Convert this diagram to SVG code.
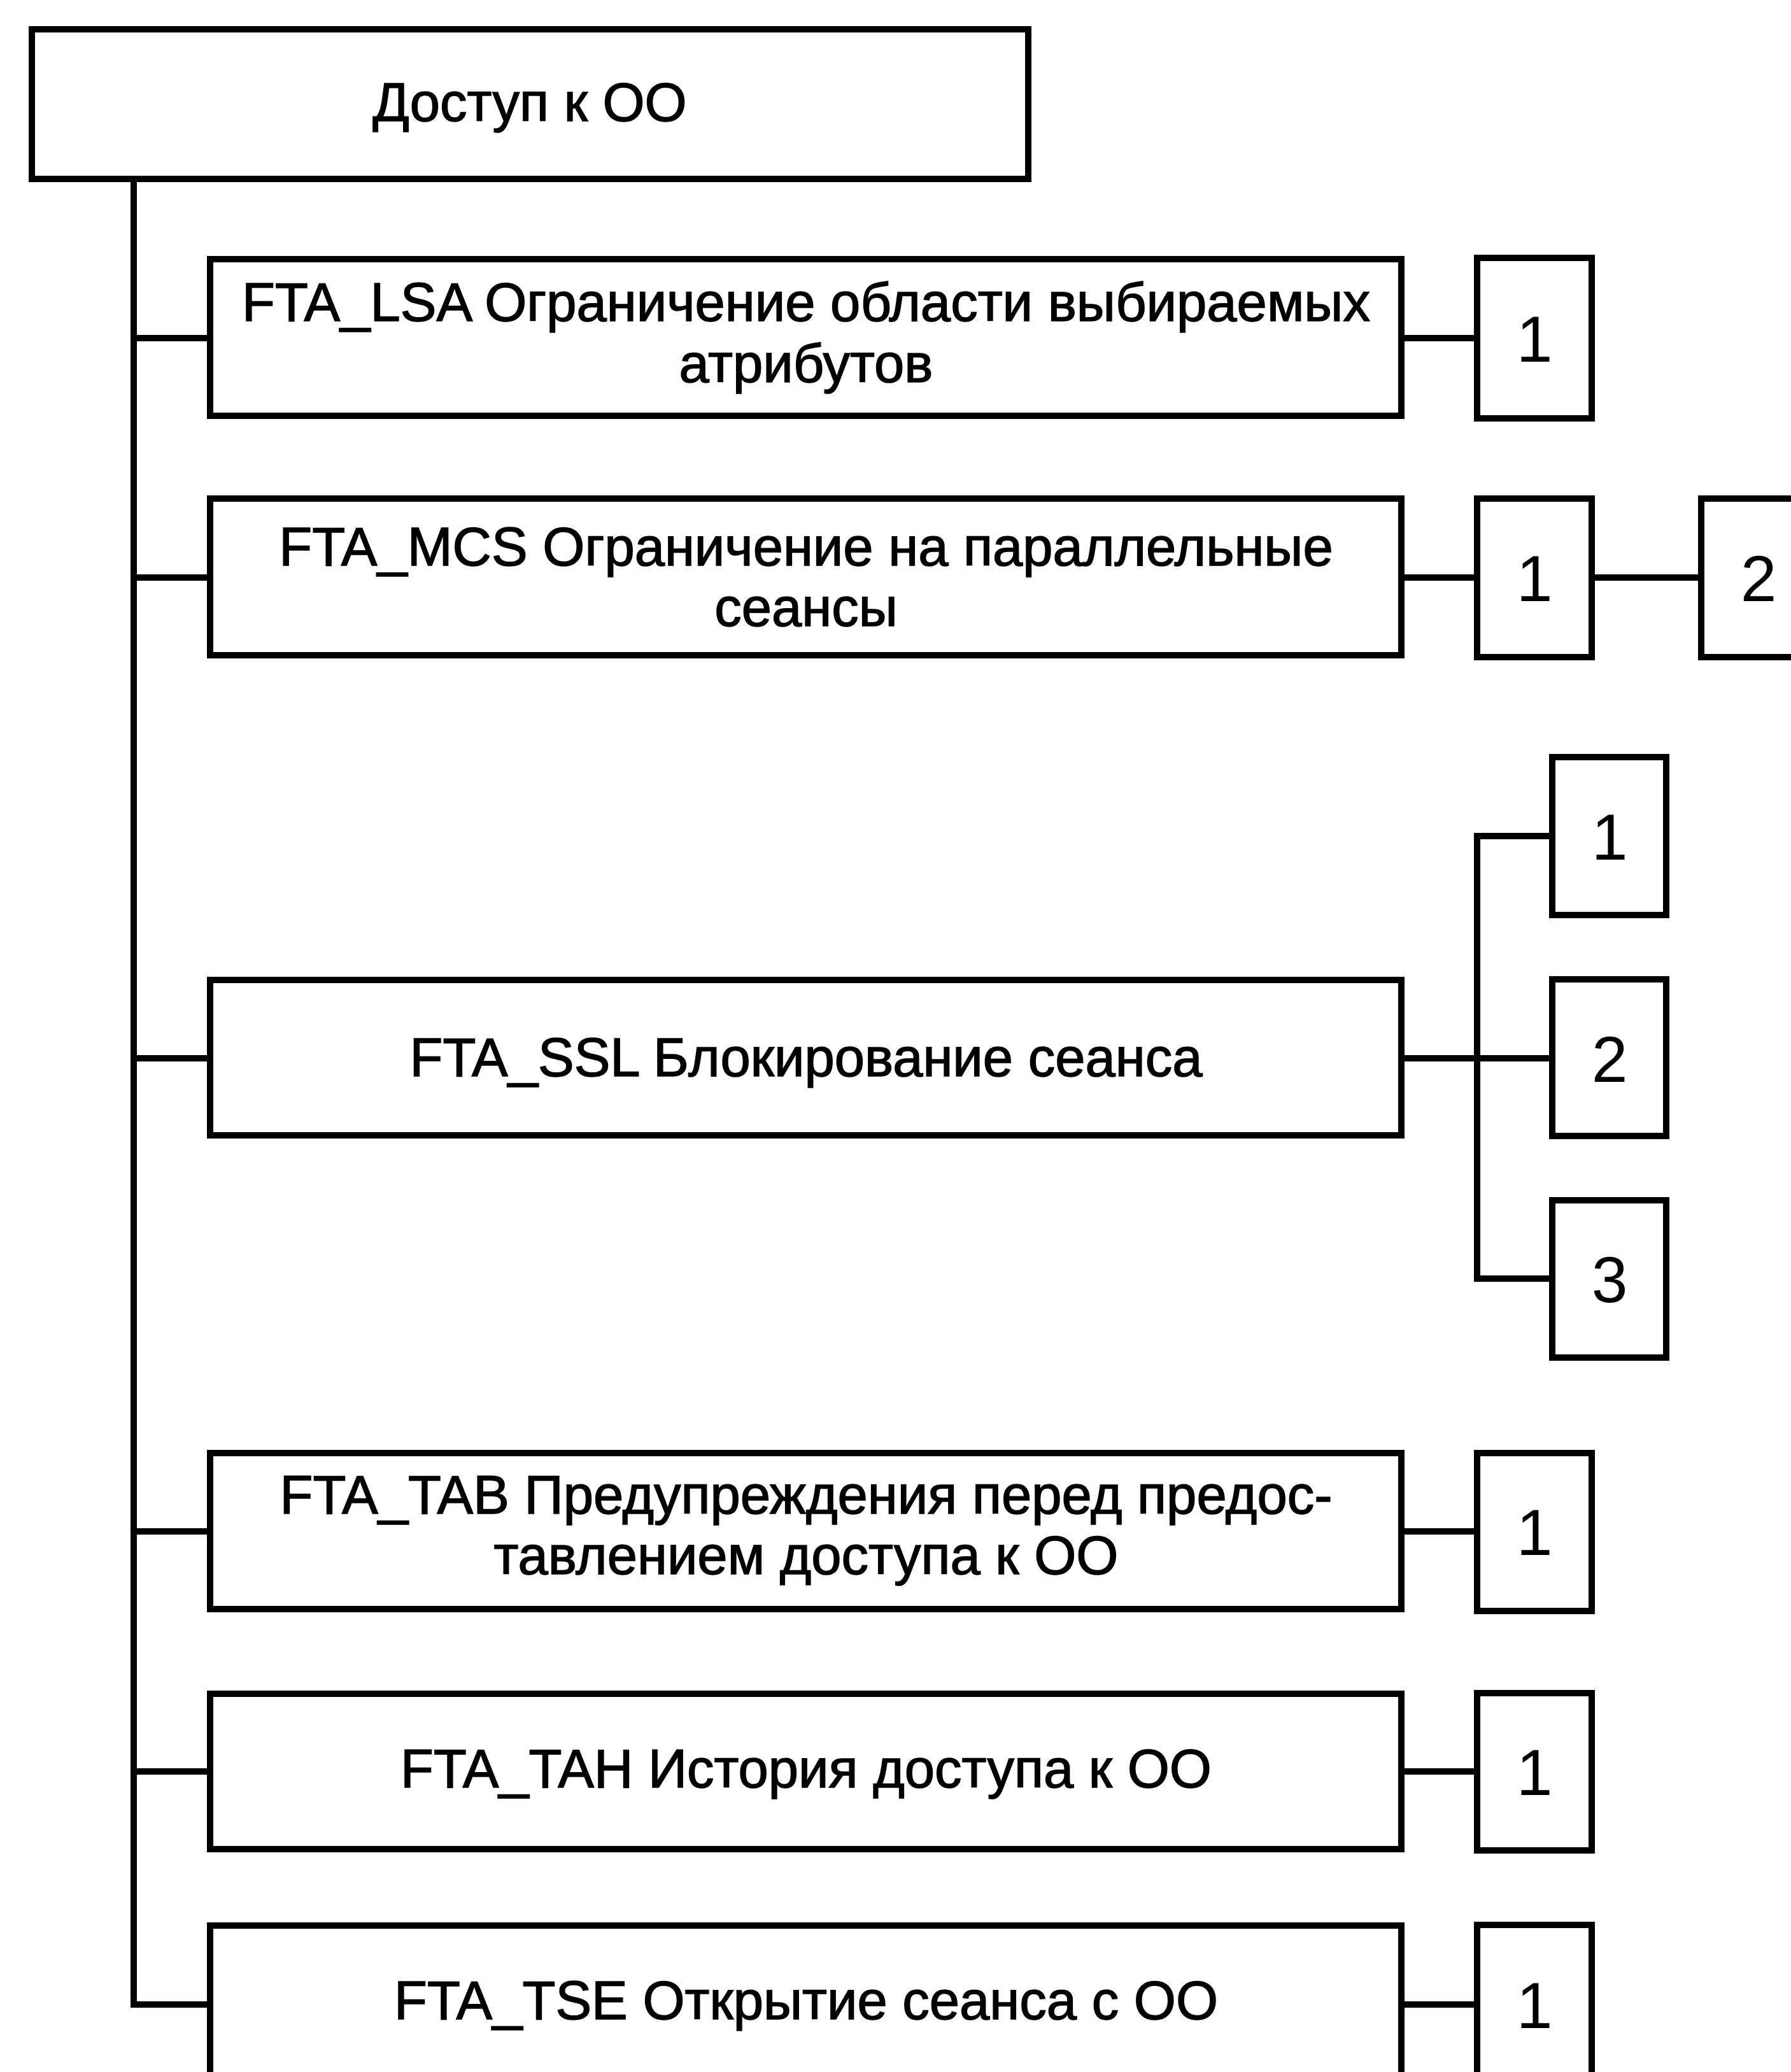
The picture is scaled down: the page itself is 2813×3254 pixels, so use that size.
<svg xmlns="http://www.w3.org/2000/svg" width="2813" height="3254" viewBox="0 0 2813 3254">
<style>
.box{fill:#fff;stroke:#000;stroke-width:10}
.ln{fill:none;stroke:#000;stroke-width:10;stroke-linecap:square}
.t{font-family:"Liberation Sans",Arial,sans-serif;font-size:85px;fill:#000;stroke:#000;stroke-width:1.5;text-anchor:middle}
.n{font-family:"Liberation Sans",Arial,sans-serif;font-size:102px;fill:#000;text-anchor:middle}
</style>
<rect width="2813" height="3254" fill="#fff"/>
<g id="connectors">
<path class="ln" d="M210 281 V3148 H330"/>
<path class="ln" d="M210 531 H330 M210 907 H330 M210 1662 H330 M210 2405 H330 M210 2782 H330"/>
<path class="ln" d="M2201 531 H2320"/>
<path class="ln" d="M2201 907 H2320 M2500 907 H2672"/>
<path class="ln" d="M2201 1662 H2438 M2438 1313 H2320 V2008 H2438"/>
<path class="ln" d="M2201 2405 H2320 M2201 2782 H2320 M2201 3148 H2320"/>
</g>
<g id="root"><rect class="box" x="50" y="46" width="1565" height="235"/><text class="t" x="832" y="190">Доступ к ОО</text></g>
<g id="lsa"><rect class="box" x="330" y="407" width="1871" height="246"/><text class="t" x="1266" y="504">FTA_LSA Ограничение области выбираемых</text><text class="t" x="1266" y="600">атрибутов</text></g>
<g id="lsa1"><rect class="box" x="2320" y="405" width="180" height="252"/><text class="n" x="2410" y="568">1</text></g>
<g id="mcs"><rect class="box" x="330" y="783" width="1871" height="246"/><text class="t" x="1266" y="888">FTA_MCS Ограничение на параллельные</text><text class="t" x="1266" y="983">сеансы</text></g>
<g id="mcs1"><rect class="box" x="2320" y="783" width="180" height="249"/><text class="n" x="2410" y="944">1</text></g>
<g id="mcs2"><rect class="box" x="2672" y="783" width="180" height="249"/><text class="n" x="2762" y="944">2</text></g>
<g id="ssl"><rect class="box" x="330" y="1539" width="1871" height="244"/><text class="t" x="1266" y="1690">FTA_SSL Блокирование сеанса</text></g>
<g id="ssl1"><rect class="box" x="2438" y="1189" width="179" height="248"/><text class="n" x="2528" y="1350">1</text></g>
<g id="ssl2"><rect class="box" x="2438" y="1538" width="179" height="246"/><text class="n" x="2528" y="1699">2</text></g>
<g id="ssl3"><rect class="box" x="2438" y="1885" width="179" height="247"/><text class="n" x="2528" y="2045">3</text></g>
<g id="tab"><rect class="box" x="330" y="2282" width="1871" height="245"/><text class="t" x="1266" y="2377">FTA_TAB Предупреждения перед предос-</text><text class="t" x="1266" y="2472">тавлением доступа к ОО</text></g>
<g id="tab1"><rect class="box" x="2320" y="2282" width="180" height="248"/><text class="n" x="2410" y="2442">1</text></g>
<g id="tah"><rect class="box" x="330" y="2660" width="1871" height="244"/><text class="t" x="1266" y="2807">FTA_TAH История доступа к ОО</text></g>
<g id="tah1"><rect class="box" x="2320" y="2659" width="180" height="247"/><text class="n" x="2410" y="2819">1</text></g>
<g id="tse"><rect class="box" x="330" y="3024" width="1871" height="246"/><text class="t" x="1266" y="3171">FTA_TSE Открытие сеанса с ОО</text></g>
<g id="tse1"><rect class="box" x="2320" y="3023" width="180" height="250"/><text class="n" x="2410" y="3185">1</text></g>
</svg>
